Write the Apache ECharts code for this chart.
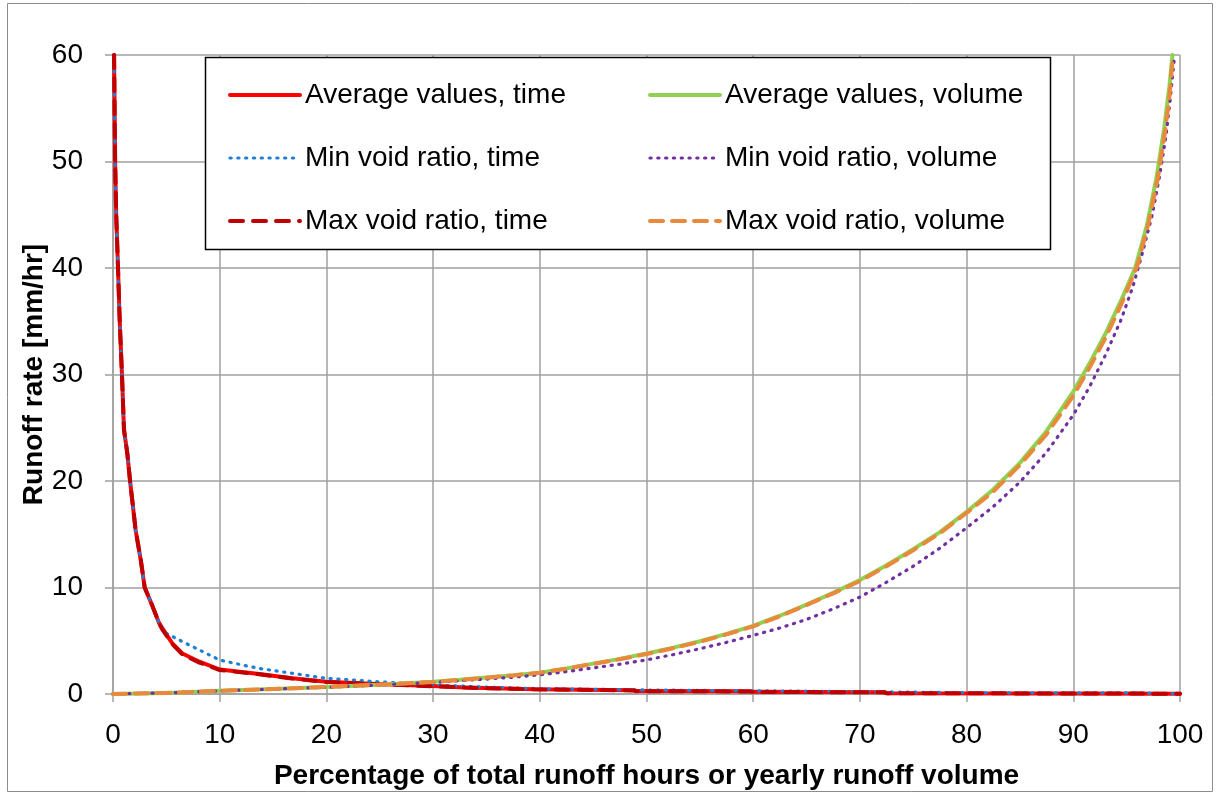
<!DOCTYPE html>
<html>
<head>
<meta charset="utf-8">
<script src="https://cdn.jsdelivr.net/npm/echarts@6/dist/echarts.min.js"></script>
<style>
html,body{margin:0;padding:0;background:#fff;}
#chart{width:1221px;height:796px;}
</style>
</head>
<body>
<div id="chart"></div>
<script>
// Series names
const seriesNames = [
  'Average values, time', 'Min void ratio, time', 'Max void ratio, time',
  'Average values, volume', 'Min void ratio, volume', 'Max void ratio, volume'
];

// [percentage, runoff rate] pairs
const avgTime = [[0.1,60],[0.2,50],[0.3,45],[0.47,40],[0.63,35],[0.84,30],[1.03,24.8],[1.34,22.6],[1.6,20],[2.12,15.4],[2.6,12.6],[2.97,10],[3.68,8.3],[4.3,6.7],[4.6,6.2],[5.56,4.75],[6.5,3.8],[8.1,3.03],[10,2.3],[13.7,1.87],[16.8,1.47],[20,1.15],[24.7,0.94],[30,0.75],[33,0.62],[39.5,0.45],[48.8,0.35],[49,0.28],[59.7,0.25],[60,0.2],[72.3,0.17],[72.5,0.08],[100,0.03]];
const minTime = [[0.1,60],[0.2,50],[0.3,45],[0.47,40],[0.63,35],[0.84,30],[1.03,24.8],[1.34,22.6],[1.6,20],[2.12,15.4],[2.6,12.6],[2.97,10],[3.68,8.3],[4.3,6.7],[5.0,5.7],[6.2,5.07],[8.1,4.13],[10,3.19],[12,2.75],[13.7,2.4],[16.8,1.94],[20,1.47],[24.7,1.16],[30,0.85],[35,0.65],[40,0.5],[50,0.38],[60,0.3],[70,0.22],[80,0.12],[90,0.1],[96,0.1],[100,0.02]];
const maxTime = [[0.1,60],[0.2,50],[0.3,45],[0.47,40],[0.63,35],[0.84,30],[1.03,24.8],[1.34,22.6],[1.6,20],[2.12,15.4],[2.6,12.6],[2.97,10],[3.68,8.3],[4.3,6.7],[4.6,6.1],[5.56,4.7],[6.5,3.7],[8.1,2.95],[10,2.25],[13.7,1.85],[16.8,1.45],[20,1.13],[24.7,0.92],[30,0.73],[33,0.6],[39.5,0.44],[48.8,0.34],[49,0.27],[59.7,0.24],[60,0.19],[72.3,0.16],[72.5,0.08],[100,0.03]];
const avgVol = [[0,0],[5,0.1],[10,0.3],[15,0.47],[20,0.65],[25,0.88],[30,1.15],[32.5,1.33],[35,1.55],[37.5,1.75],[40,2.0],[42.5,2.4],[45,2.85],[47.5,3.3],[50,3.8],[52.5,4.35],[55,4.95],[57.5,5.65],[60,6.4],[62.5,7.35],[65,8.4],[67.5,9.5],[70,10.7],[72.5,12.1],[75,13.6],[77.5,15.2],[80,17.1],[82.5,19.2],[85,21.7],[87.5,24.7],[90,28.4],[91.5,31.0],[93,33.8],[94.5,37.0],[95.8,40],[96.9,44],[97.8,48.5],[98.5,53],[99,57],[99.3,60]];
const minVol = [[0,0],[5,0.1],[10,0.3],[15,0.46],[20,0.63],[25,0.85],[30,1.1],[32.5,1.25],[35,1.4],[37.5,1.58],[40,1.8],[42.5,2.1],[45,2.45],[47.5,2.8],[50,3.2],[52.5,3.7],[55,4.25],[57.5,4.85],[60,5.5],[62.5,6.2],[65,7.0],[67.5,8.0],[70,9.1],[72.5,10.5],[75,12.0],[77.5,13.7],[80,15.6],[82.5,17.6],[85,19.9],[87.5,22.7],[90,26.2],[91.5,28.8],[93,31.8],[94.5,35.2],[95.6,38.3],[96.5,41.5],[97.4,45],[98.1,48.7],[98.7,52.5],[99.1,56],[99.5,60]];
const maxVol = [[0,0],[5,0.1],[10,0.3],[15,0.47],[20,0.66],[25,0.88],[30,1.13],[32.5,1.32],[35,1.53],[37.5,1.74],[40,2.0],[42.5,2.38],[45,2.82],[47.5,3.27],[50,3.75],[52.5,4.3],[55,4.9],[57.5,5.6],[60,6.35],[62.5,7.3],[65,8.35],[67.5,9.45],[70,10.6],[72.5,12.0],[75,13.5],[77.5,15.1],[80,17.0],[82.5,19.0],[85,21.5],[87.5,24.4],[90,28.0],[91.5,30.6],[93,33.4],[94.5,36.6],[96,40.2],[97,44],[97.9,48.3],[98.6,52.8],[99,56],[99.35,60]];

const FONT = '"Liberation Sans", Arial, sans-serif';
const chart = echarts.init(document.getElementById('chart'));

const seriesStyles = [
  { color: '#ff0000', width: 4, type: 'solid' },
  { color: '#1f7fd4', width: 3.2, type: [1.2, 6.6] },
  { color: '#c00000', width: 4, type: [13, 10] },
  { color: '#92d050', width: 4, type: 'solid' },
  { color: '#7030a0', width: 3.2, type: [1.2, 6.6] },
  { color: '#e8893c', width: 4, type: [13, 9] }
];
const seriesData = [avgTime, minTime, maxTime, avgVol, minVol, maxVol];

function lineSeries(i) {
  const s = seriesStyles[i];
  return {
    name: seriesNames[i], type: 'line', data: seriesData[i], symbol: 'none', showSymbol: false,
    smooth: false, clip: true,
    lineStyle: { color: s.color, width: s.width, type: s.type, cap: 'round' },
    itemStyle: { color: s.color },
    emphasis: { disabled: true }, animation: false
  };
}

function legendItems(idx) {
  return idx.map(function (i) {
    const s = seriesStyles[i];
    return {
      name: seriesNames[i],
      itemStyle: { opacity: 0 },
      lineStyle: { color: s.color, width: s.width, type: s.type, cap: 'round' }
    };
  });
}

function legend(left, idx) {
  return {
    left: left, top: 75, orient: 'vertical',
    data: legendItems(idx),
    itemWidth: 70, itemHeight: 14, itemGap: 33,
    itemStyle: { opacity: 0 },
    textStyle: { fontFamily: FONT, fontSize: 28, color: '#000', lineHeight: 30 },
    selectedMode: false
  };
}

const option = {
  animation: false,
  grid: { left: 113, right: 41, top: 55, bottom: 102, containLabel: false },
  xAxis: {
    type: 'value', min: 0, max: 100, interval: 10,
    name: 'Percentage of total runoff hours or yearly runoff volume',
    nameLocation: 'middle', nameGap: 68, nameMoveOverlap: false,
    nameTextStyle: { fontFamily: FONT, fontSize: 28, fontWeight: 'bold', color: '#000' },
    axisLine: { show: true, lineStyle: { color: '#a0a0a0', width: 1.5 } },
    axisTick: { show: true, length: 8, lineStyle: { color: '#a0a0a0', width: 1.5 } },
    axisLabel: { fontFamily: FONT, fontSize: 28, color: '#000', margin: 27 },
    splitLine: { show: true, lineStyle: { color: '#a0a0a0', width: 1.5 } }
  },
  yAxis: {
    type: 'value', min: 0, max: 60, interval: 10,
    name: 'Runoff rate [mm/hr]',
    nameLocation: 'middle', nameGap: 65, nameMoveOverlap: false,
    nameTextStyle: { fontFamily: FONT, fontSize: 28, fontWeight: 'bold', color: '#000' },
    axisLine: { show: true, lineStyle: { color: '#a0a0a0', width: 1.5 } },
    axisTick: { show: true, length: 8, lineStyle: { color: '#a0a0a0', width: 1.5 } },
    axisLabel: { fontFamily: FONT, fontSize: 28, color: '#000', margin: 30 },
    splitLine: { show: true, lineStyle: { color: '#a0a0a0', width: 1.5 } }
  },
  legend: [ legend(223, [0, 1, 2]), legend(643, [3, 4, 5]) ],
  graphic: [
    { type: 'rect', z: 3, silent: true,
      shape: { x: 205.5, y: 57.5, width: 845, height: 192 },
      style: { fill: '#fff', stroke: '#000', lineWidth: 1.5 } },
    { type: 'rect', z: -1, silent: true,
      shape: { x: 7.5, y: 3.5, width: 1205, height: 788 },
      style: { fill: 'none', stroke: '#8c8c8c', lineWidth: 1 } }
  ],
  series: [0, 1, 2, 3, 4, 5].map(lineSeries)
};
chart.setOption(option);
</script>
</body>
</html>
